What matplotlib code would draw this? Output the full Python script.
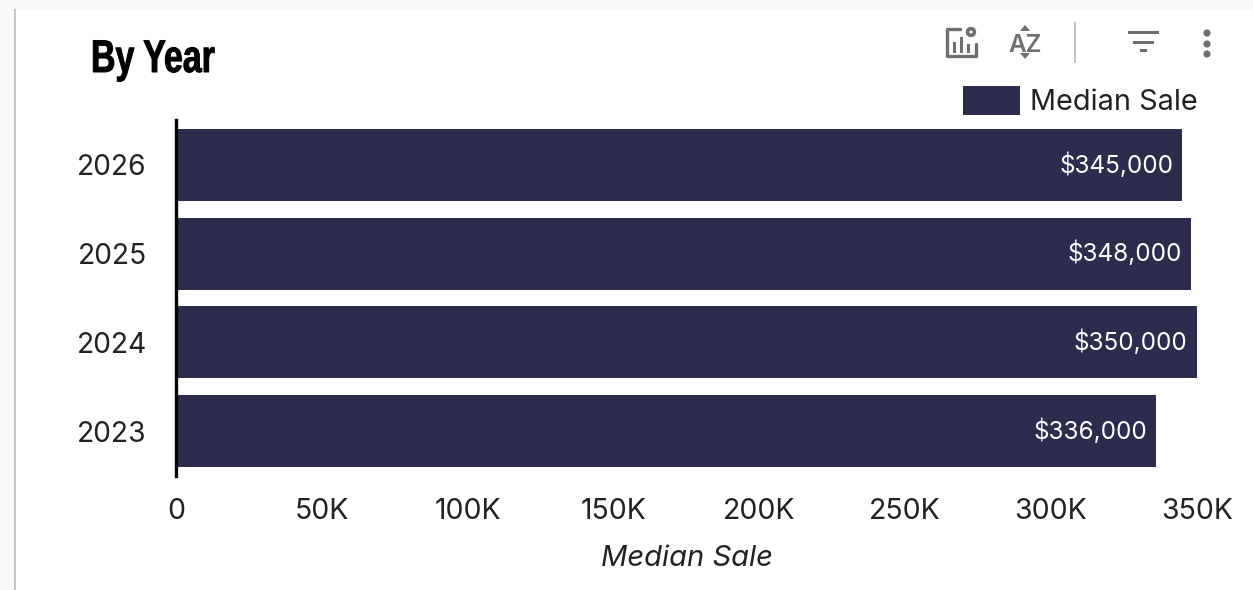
import matplotlib
matplotlib.use('Agg')
import matplotlib.pyplot as plt
from matplotlib.patches import Rectangle, Circle, Polygon
from matplotlib.patheffects import AbstractPathEffect
from matplotlib.transforms import Affine2D

years = ['2023', '2024', '2025', '2026']
median_sale = [336000, 350000, 348000, 345000]
value_labels = ['$336,000', '$350,000', '$348,000', '$345,000']
x_ticks = [0, 50000, 100000, 150000, 200000, 250000, 300000, 350000]
x_tick_labels = ['0', '50K', '100K', '150K', '200K', '250K', '300K', '350K']

W, H = 1253, 590
BAR = '#2d2c4e'
GREY = '#6f6f6f'
plt.rcParams['font.family'] = ['Inter', 'DejaVu Sans']


# squeezes glyphs sideways, none of the installed fonts is condensed
class Squeeze(AbstractPathEffect):
    def __init__(self, x0, sx):
        super().__init__()
        self.x0 = x0
        self.sx = sx

    def draw_path(self, renderer, gc, tpath, affine, rgbFace=None):
        squeeze = Affine2D().translate(-self.x0, 0).scale(self.sx, 1).translate(self.x0, 0)
        gc0 = renderer.new_gc()
        gc0.copy_properties(gc)
        gc0.set_foreground(rgbFace)
        gc0.set_linewidth(0.7)
        renderer.draw_path(gc0, tpath, affine + squeeze, rgbFace)
        gc0.restore()


fig = plt.figure(figsize=(W / 100, H / 100), dpi=100, facecolor='white')

# page chrome + toolbar, drawn in pixel coordinates
bg = fig.add_axes([0, 0, 1, 1], zorder=0)
bg.set_xlim(0, W)
bg.set_ylim(H, 0)
bg.axis('off')
bg.add_patch(Rectangle((0, 0), W, 9, color='#f8f8f8', lw=0))
bg.add_patch(Rectangle((0, 0), 14, H, color='#fafafa', lw=0))
bg.add_patch(Rectangle((14, 9), 1.5, H, color='#c9c9c9', lw=0))

# chart settings icon
bg.plot([960, 947, 947, 976, 976], [29, 29, 56, 56, 44], color=GREY, lw=2.4, solid_capstyle='round')
for bx, top in [(954, 43), (961, 38), (968, 45)]:
    bg.plot([bx, bx], [top, 51], color=GREY, lw=2.2)
bg.add_patch(Circle((971, 32), 3.4, fill=False, ec=GREY, lw=2.6))

# sort icon
bg.text(1025, 45, 'AZ', ha='center', va='center', fontsize=17.5, color=GREY, fontweight='semibold')
bg.add_patch(Polygon([[1025, 25], [1020, 31], [1030, 31]], color=GREY, lw=0))
bg.add_patch(Polygon([[1025, 59], [1020, 53], [1030, 53]], color=GREY, lw=0))

bg.add_patch(Rectangle((1073.5, 22), 2, 41, color='#c4c4c4', lw=0))

# filter icon
bg.add_patch(Rectangle((1128, 31), 31, 3, color=GREY, lw=0))
bg.add_patch(Rectangle((1133, 41), 21, 3, color=GREY, lw=0))
bg.add_patch(Rectangle((1140, 49), 7, 3, color=GREY, lw=0))

# kebab icon
for dy in (33, 44, 54):
    bg.add_patch(Circle((1207, dy), 3.6, color=GREY, lw=0))

# legend swatch + text
bg.add_patch(Rectangle((963, 86), 57, 29, color=BAR, lw=0))
bg.text(1030, 102, 'Median Sale', ha='left', va='center', fontsize=20.8, color='#222222')

title = fig.text(91 / W, 1 - 60 / H, 'By Year', ha='left', va='center', fontsize=33, fontweight='bold',
                 family=['Liberation Sans', 'DejaVu Sans'], color='black')
title.set_path_effects([Squeeze(91, 0.74)])

# plot area: zero at x=176, 350K at x=1196.7, y runs 120..476
ax = fig.add_axes([176 / W, 1 - 476 / H, (1196.7 - 176) / W, (476 - 120) / H], zorder=1)
ax.patch.set_alpha(0)
bars = ax.barh(years, median_sale, height=0.815, color=BAR)
ax.set_xlim(0, 350000)
ax.set_ylim(-0.507, 3.507)

for rect, lab in zip(bars, value_labels):
    ax.annotate(lab, (rect.get_width(), rect.get_y() + rect.get_height() / 2),
                xytext=(-9, 0), textcoords='offset pixels', ha='right', va='center',
                color='white', fontsize=17.5)

for side in ('top', 'right', 'bottom'):
    ax.spines[side].set_visible(False)
ax.spines['left'].set_linewidth(2.4)
ax.spines['left'].set_color('black')

ax.set_xticks(x_ticks)
ax.set_xticklabels(x_tick_labels)
ax.tick_params(axis='x', length=0, pad=16, labelsize=20.5, labelcolor='#222222')
ax.tick_params(axis='y', length=0, pad=21, labelsize=20.3, labelcolor='#222222')
ax.set_xlabel('Median Sale', fontsize=21, style='italic', color='#222222')
ax.xaxis.set_label_coords((687 - 176) / (1196.7 - 176), 1 - (559 - 120) / (476 - 120), transform=ax.transAxes)
ax.xaxis.label.set_va('center')

fig.savefig('out.png', dpi=100)
